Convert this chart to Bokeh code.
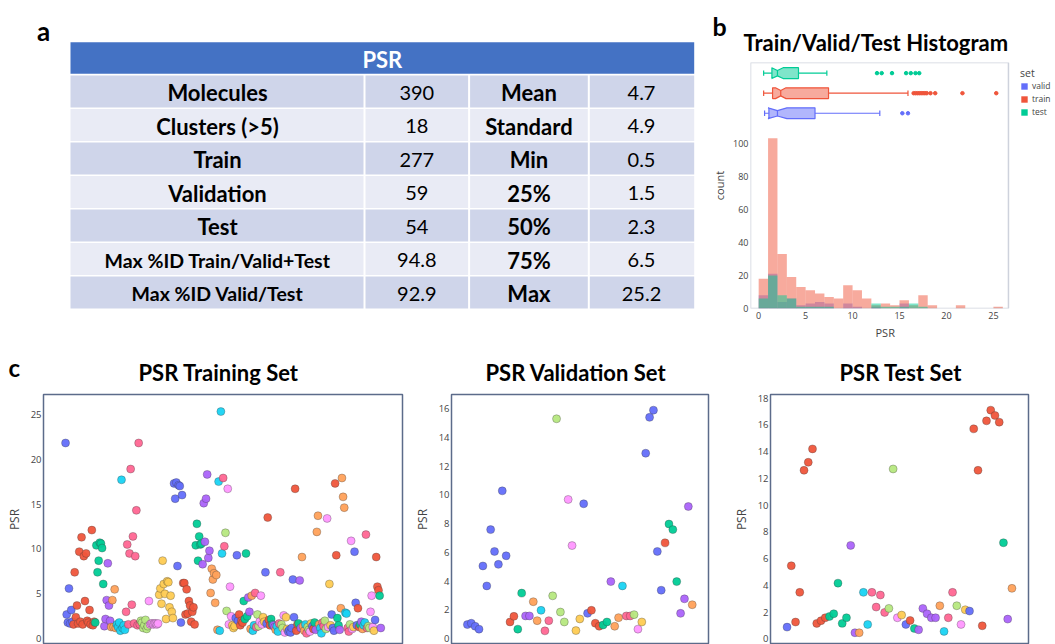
import numpy as np
from bokeh.plotting import figure
from bokeh.layouts import row, column
from bokeh.models import (Range1d, FixedTicker, Title, Legend, LegendItem, ColumnDataSource,
                          BoxAnnotation)
from bokeh.embed import file_html
from bokeh.resources import INLINE
from bokeh.core.properties import value

# ------------------------------------------------------------------ data
PALETTE = ["#636EFA", "#EF553B", "#00CC96", "#AB63FA", "#FFA15A",
           "#19D3F3", "#FF6692", "#B6E880", "#FF97FF", "#FECB52"]

# panel a : summary table
table_title = "PSR"
row_labels = ["Molecules", "Clusters (>5)", "Train", "Validation", "Test",
              "Max %ID Train/Valid+Test", "Max %ID Valid/Test"]
row_values = ["390", "18", "277", "59", "54", "94.8", "92.9"]
stat_labels = ["Mean", "Standard", "Min", "25%", "50%", "75%", "Max"]
stat_values = ["4.7", "4.9", "0.5", "1.5", "2.3", "6.5", "25.2"]

# panel b : histogram + box plots
set_names = ["valid", "train", "test"]
set_colors = ["#636EFA", "#EF553B", "#00CC96"]
set_sizes = [59, 277, 54]
bin_edges = list(range(0, 27))
hist_valid = [8, 21, 4, 6, 2, 3, 4, 3, 0, 3, 1, 0, 1, 0, 0, 3, 0, 0, 0, 0, 0, 0, 0, 0, 0, 0]
hist_train = [18, 103, 33, 19, 13, 11, 9, 7, 6, 14, 11, 6, 2, 3, 2, 5, 2, 8, 2, 0, 0, 2, 0, 0, 0, 1]
hist_test = [6, 20, 8, 6, 1, 1, 1, 1, 0, 0, 0, 0, 3, 1, 1, 1, 3, 1, 0, 0, 0, 0, 0, 0, 0, 0]
box_lo = [0.63, 0.53, 0.53]
box_q1 = [1.09, 1.48, 1.41]
box_med = [2.0, 2.35, 2.0]
box_q3 = [6.0, 7.44, 4.24]
box_hi = [12.9, 15.9, 7.26]
outliers_valid = [15.3, 15.9]
outliers_train = [16.5, 16.7, 16.9, 17.1, 17.3, 17.5, 17.7, 17.9, 18.3, 18.8, 21.7, 25.3]
outliers_test = [12.6, 13.1, 14.2, 15.7, 16.2, 16.7, 17.1]

# panel c : per-molecule PSR, ordered by cluster
train_cluster_sizes = [7, 19, 8, 6, 5, 8, 13, 7, 9, 13,
                       8, 11, 6, 7, 7, 4, 2, 2, 4, 3,
                       3, 4, 4, 2, 2, 2, 2, 2, 3, 2,
                       2, 3, 2, 2, 1, 2, 2, 2, 2, 2,
                       6, 3, 1, 2, 3, 1, 1, 2, 1, 1,
                       1, 1, 1, 1, 3, 2, 2, 2, 2, 2,
                       3, 2, 2, 1, 4, 2, 2, 1, 2, 1,
                       3, 2, 1, 1, 1, 2, 2, 2, 3, 1,
                       1, 3, 1, 1]
train_psr = [
    21.8, 2.7, 1.8, 5.6, 1.7, 3.2, 1.9,
    1.6, 7.4, 2.4, 3.7, 1.7, 9.7, 1.9, 11.3, 1.6, 9.2, 4.2, 9.5, 2.0, 1.8, 3.2, 1.6, 12.1, 1.5, 1.9,
    1.8, 10.4, 7.4, 8.7, 10.7, 10.6, 10.1, 6.1,
    1.4, 2.2, 4.3, 8.4, 3.7, 2.0,
    1.3, 4.3, 1.3, 5.5, 1.2,
    1.6, 1.3, 1.8, 0.9, 17.7, 1.2, 1.5, 1.0,
    3.0, 10.5, 1.6, 9.5, 18.9, 3.8, 11.4, 1.7, 9.2, 14.3, 1.5, 21.8, 1.6,
    2.0, 1.8, 1.2, 1.5, 2.1, 1.1, 1.4,
    4.2, 1.6, 1.7, 1.7, 1.6, 1.7, 1.7, 1.6, 1.7,
    4.9, 5.6, 3.9, 8.7, 6.1, 5.0, 2.2, 6.4, 6.3, 3.5, 4.8, 3.0, 2.3,
    17.3, 15.6, 17.4, 8.1, 17.1, 17.0, 1.8, 16.0,
    6.2, 6.2, 2.7, 5.5, 2.8, 4.2, 3.7, 1.9, 3.0, 3.5, 1.6,
    10.4, 12.8, 8.7, 11.4, 10.5, 10.6,
    8.3, 15.1, 10.8, 15.6, 18.3, 9.0, 9.8,
    5.1, 7.8, 6.6, 7.3, 4.0, 7.1, 1.0,
    17.5, 0.9, 25.3, 9.5,
    17.9, 10.3,
    11.8, 3.1,
    16.7, 1.6, 5.8, 2.5,
    1.5, 1.2, 1.4,
    2.3, 9.3, 2.0,
    2.7, 1.5, 2.0, 1.8,
    4.2, 2.2, 9.5, 2.5,
    4.6, 3.0,
    1.1, 4.8,
    0.9, 1.5,
    5.1, 1.3,
    2.7, 1.4,
    1.9, 4.8, 1.6,
    2.4, 1.9,
    7.4, 1.7,
    13.5, 2.1, 1.5,
    2.2, 1.6,
    1.5, 1.3,
    1.0,
    1.4, 0.8,
    1.7, 7.4,
    1.6, 1.2,
    2.6, 0.7,
    2.4, 1.1,
    0.8, 1.0, 0.7, 1.2, 6.6, 2.4,
    16.7, 0.9, 1.6,
    1.7,
    6.5, 1.2,
    9.1, 1.4, 0.9,
    1.6,
    0.6,
    1.3, 1.0,
    0.8,
    1.7,
    1.4,
    1.1,
    1.8,
    1.0,
    11.9, 13.7, 1.6,
    1.2, 0.6,
    1.8, 1.4,
    2.0, 1.1,
    13.4, 1.3,
    6.1, 1.5,
    2.7, 1.2, 0.9,
    17.3, 9.3,
    2.3, 1.5,
    1.0,
    3.4, 17.9, 15.8, 14.6,
    2.9, 2.8,
    1.2, 0.8,
    1.6,
    10.9, 1.1,
    1.3,
    9.7, 4.0, 1.5,
    3.4, 1.3,
    1.6,
    1.9,
    1.1,
    1.5, 1.8,
    11.6, 1.2,
    1.4, 1.2,
    3.0, 4.8, 1.3,
    0.9,
    2.1,
    9.1, 5.8, 5.4,
    4.8,
    1.2,
]

valid_cluster_sizes = [11, 2, 2, 2, 2, 1, 2, 4, 2, 2,
                       2, 3, 2, 1, 2, 1, 2, 1, 1, 1,
                       5, 1, 3, 3, 1]
valid_psr = [
    0.97, 1.06, 0.85, 0.65, 5.05, 3.66, 7.58, 6.06, 5.16, 10.28, 5.76,
    1.15, 1.54,
    0.65, 3.16,
    1.57, 1.57,
    2.56, 1.24,
    1.96,
    0.53, 1.24,
    2.97, 15.3, 1.84, 1.15,
    9.68, 6.47,
    0.55, 1.36,
    9.38, 1.75,
    1.96, 1.06, 0.85,
    0.94, 1.15,
    3.96,
    0.85, 1.45,
    3.66,
    1.57, 1.57,
    1.66,
    0.65,
    1.15,
    12.9, 15.4, 15.9, 6.06, 3.36,
    6.66,
    7.97, 7.58, 3.96,
    1.75, 2.76, 9.19,
    2.35,
]

test_cluster_sizes = [1, 9, 5, 2, 1, 2, 4, 2, 1, 1,
                      1, 1, 1, 5, 1, 1, 2, 1, 1, 1,
                      1, 7, 1, 1, 1]
test_psr = [
    0.87,
    5.46, 1.25, 3.47, 12.6, 13.2, 14.2, 1.15, 1.35, 1.57,
    1.67, 1.87, 4.16, 1.15, 1.57,
    6.98, 0.45,
    0.45,
    3.47, 1.07,
    3.47, 2.37, 3.27, 1.97,
    2.27, 12.7,
    1.57,
    1.77,
    1.07,
    1.37,
    0.77,
    0.67, 2.27, 1.87, 1.57, 1.57,
    2.47,
    0.55,
    1.57, 3.47,
    2.47,
    1.07,
    2.17,
    2.07,
    15.7, 12.6, 0.97, 16.3, 17.1, 16.7, 16.2,
    7.18,
    1.47,
    3.77,
]

# ------------------------------------------------------------------ style
BOLD_FONT = "Lato"
PLOT_FONT = "Open Sans"
TXT = "#444444"
FRAME = "#5c6b8a"


def add_title(p, text, align="center", offset=0, standoff=10, size="22px",
              font=BOLD_FONT, style="bold", color="black", place="above"):
    p.add_layout(Title(text=text, align=align, offset=offset, standoff=standoff,
                       text_font=font, text_font_size=size, text_font_style=style,
                       text_color=color), place)


def style_axis(ax, tick_size, label_size, label_standoff, axis_label_standoff):
    ax.axis_line_color = None
    ax.major_tick_line_color = None
    ax.minor_tick_line_color = None
    ax.major_tick_out = 0
    ax.major_tick_in = 0
    ax.minor_tick_out = 0
    ax.minor_tick_in = 0
    ax.major_label_text_font = PLOT_FONT
    ax.major_label_text_font_size = tick_size
    ax.major_label_text_color = TXT
    ax.major_label_standoff = label_standoff
    ax.axis_label_text_font = PLOT_FONT
    ax.axis_label_text_font_size = label_size
    ax.axis_label_text_font_style = "normal"
    ax.axis_label_text_color = TXT
    ax.axis_label_standoff = axis_label_standoff


# ------------------------------------------------------------------ panel a
TW, TH = 708, 340
t = figure(width=TW, height=TH, x_range=Range1d(0, TW), y_range=Range1d(TH, 0),
           output_backend="svg", toolbar_location=None, min_border=0, title=None,
           x_axis_location=None, y_axis_location=None)
t.outline_line_color = None
t.grid.visible = False

col_edges = [70, 364, 468.6, 588.3, 693.7]
hdr_top, hdr_bot = 41.7, 73.3
row_top0, row_step, row_h = 75.0, 33.5, 32.0
t.quad(left=[col_edges[0]], right=[col_edges[-1]], top=[hdr_top], bottom=[hdr_bot],
       fill_color="#4472C4", line_color=None)
L, R, T, B, C = [], [], [], [], []
for i in range(len(row_labels)):
    top = row_top0 + i * row_step
    for j in range(4):
        L.append(col_edges[j] + (1 if j else 0))
        R.append(col_edges[j + 1] - (1 if j < 3 else 0))
        T.append(top)
        B.append(top + row_h)
        C.append("#CFD5EA" if i % 2 == 0 else "#E9EBF5")
t.quad(left=L, right=R, top=T, bottom=B, fill_color=C, line_color=None)

centers = [(col_edges[j] + col_edges[j + 1]) / 2 for j in range(4)]
ys = [row_top0 + i * row_step + row_h / 2 + 1 for i in range(len(row_labels))]
t.text(x=[(col_edges[0] + col_edges[-1]) / 2], y=[(hdr_top + hdr_bot) / 2 + 1], text=[table_title],
       text_align="center", text_baseline="middle", text_font=value(BOLD_FONT),
       text_font_size="22px", text_font_style="bold", text_color="white")
lab_sizes = ["22px"] * 5 + ["19.5px"] * 2
t.text(x=[centers[0]] * 7, y=ys, text=row_labels, text_align="center", text_baseline="middle",
       text_font=value(BOLD_FONT), text_font_size=lab_sizes, text_font_style="bold", text_color="black")
t.text(x=[centers[1]] * 7, y=ys, text=row_values, text_align="center", text_baseline="middle",
       text_font=value(BOLD_FONT), text_font_size="20px", text_color="black")
t.text(x=[centers[2]] * 7, y=ys, text=stat_labels, text_align="center", text_baseline="middle",
       text_font=value(BOLD_FONT), text_font_size="22px", text_font_style="bold", text_color="black")
t.text(x=[centers[3]] * 7, y=ys, text=stat_values, text_align="center", text_baseline="middle",
       text_font=value(BOLD_FONT), text_font_size="20px", text_color="black")
t.text(x=[43], y=[30], text=["a"], text_align="center", text_baseline="middle",
       text_font=value(BOLD_FONT), text_font_size="26px", text_font_style="bold", text_color="black")

# ------------------------------------------------------------------ panel b
HX_END = 26.6          # right edge of the plotted box (data units)
h = figure(width=347, height=340, x_range=Range1d(-0.87, 31.61), y_range=Range1d(0, 148.8),
           output_backend="svg", toolbar_location=None, title=None,
           min_border_left=42, min_border_right=0, min_border_top=62, min_border_bottom=31)
h.extra_y_ranges = {"box": Range1d(-9.73, 2.53), "legend_proxy": Range1d(-1000, -900)}
h.grid.visible = False
h.outline_line_color = None
h.add_layout(BoxAnnotation(right=HX_END, fill_alpha=0, line_color=FRAME, line_width=1.5))

proxies = []
for name, col, counts in zip(set_names, set_colors, [hist_valid, hist_train, hist_test]):
    src = ColumnDataSource(dict(left=bin_edges[:-1], right=bin_edges[1:], top=counts))
    h.quad(left="left", right="right", bottom=0, top="top", source=src,
           fill_color=col, fill_alpha=0.5, line_color=None)
    # full-colour legend swatch, drawn on a range that keeps it off the plot area
    proxies.append(h.quad(left="left", right="right", bottom=0, top="top", source=src,
                          fill_color=col, fill_alpha=1.0, line_color=None,
                          y_range_name="legend_proxy"))

box_half = 0.27
all_outliers = [outliers_valid, outliers_train, outliers_test]
for k, col in enumerate(set_colors):
    q1, m, q3, lo, hi = box_q1[k], box_med[k], box_q3[k], box_lo[k], box_hi[k]
    notch = 1.57 * (q3 - q1) / np.sqrt(set_sizes[k])
    yc = k
    xs = [q1, m - notch, m, m + notch, q3, q3, m + notch, m, m - notch, q1]
    yv = [yc - box_half, yc - box_half, yc - box_half / 2, yc - box_half, yc - box_half,
          yc + box_half, yc + box_half, yc + box_half / 2, yc + box_half, yc + box_half]
    h.patch(xs, yv, fill_color=col, fill_alpha=0.5, line_color=col, line_width=1.2,
            y_range_name="box")
    h.segment(x0=[lo, q3, m, lo, hi], x1=[q1, hi, m, lo, hi],
              y0=[yc, yc, yc - box_half / 2, yc - box_half / 2, yc - box_half / 2],
              y1=[yc, yc, yc + box_half / 2, yc + box_half / 2, yc + box_half / 2],
              line_color=col, line_width=1.2, y_range_name="box")
    h.scatter(x=all_outliers[k], y=[yc] * len(all_outliers[k]), size=3.5, color=col,
              y_range_name="box")

legend = Legend(items=[LegendItem(label=n, renderers=[r]) for n, r in zip(set_names, proxies)],
                title="set", location=(270, 191), margin=0, padding=0, spacing=2,
                glyph_width=8, glyph_height=8, label_height=10, label_standoff=4,
                label_text_font=PLOT_FONT, label_text_font_size="8.5px", label_text_color=TXT,
                title_text_font=PLOT_FONT, title_text_font_size="10.5px",
                title_text_font_style="normal", title_text_color=TXT, title_standoff=0,
                border_line_color=None, background_fill_alpha=0)
h.add_layout(legend)

style_axis(h.xaxis[0], "9px", "11px", 3, 3)
style_axis(h.yaxis[0], "9px", "11px", 2, 3)
h.xaxis.ticker = FixedTicker(ticks=[0, 5, 10, 15, 20, 25])
h.yaxis.ticker = FixedTicker(ticks=[0, 20, 40, 60, 80, 100])
h.yaxis.axis_label = "count"
add_title(h, "PSR", align="left", offset=125, standoff=2, size="11px", font=PLOT_FONT,
          style="normal", color=TXT, place="below")
add_title(h, "Train/Valid/Test Histogram", align="left", offset=-7, standoff=13)
add_title(h, "b", align="left", offset=-38, standoff=-40, size="25px")


# ------------------------------------------------------------------ panel c
def scatter_panel(psr, sizes, width, left, right, xpad, yr, yticks):
    n = len(psr)
    clusters = np.repeat(np.arange(len(sizes)), sizes)
    colors = [PALETTE[c % len(PALETTE)] for c in clusters]
    src = ColumnDataSource(dict(x=list(range(n)), y=psr, color=colors))
    p = figure(width=width, height=304, x_range=Range1d(-xpad[0], n - 1 + xpad[1]),
               y_range=Range1d(*yr), output_backend="svg", toolbar_location=None, title=None,
               x_axis_location=None, min_border_left=left, min_border_right=right,
               min_border_top=54, min_border_bottom=0)
    p.grid.visible = False
    p.outline_line_color = FRAME
    p.outline_line_width = 1.5
    p.scatter("x", "y", source=src, size=8, fill_color="color", fill_alpha=0.95,
              line_color="#3a3a3a", line_alpha=0.45, line_width=0.7)
    ax = p.yaxis[0]
    ax.ticker = FixedTicker(ticks=yticks)
    style_axis(ax, "9.5px", "12px", 2, 5)
    ax.axis_label = "PSR"
    return p


p_train = scatter_panel(train_psr, train_cluster_sizes, 410, 43, 8,
                        (19.3, 19.0), (-0.64, 27.2), [0, 5, 10, 15, 20, 25])
add_title(p_train, "PSR Training Set", align="left", offset=95, standoff=18)
add_title(p_train, "c", align="left", offset=-35, standoff=-69, size="24px")
p_valid = scatter_panel(valid_psr, valid_cluster_sizes, 308, 40, 10,
                        (4.1, 4.2), (-0.42, 16.99), [0, 2, 4, 6, 8, 10, 12, 14, 16])
add_title(p_valid, "PSR Validation Set", align="left", offset=34, standoff=18)
p_test = scatter_panel(test_psr, test_cluster_sizes, 337, 52, 27,
                       (3.9, 3.9), (-0.43, 18.27), [0, 2, 4, 6, 8, 10, 12, 14, 16, 18])
add_title(p_test, "PSR Test Set", align="left", offset=69, standoff=18)

layout = column(row(column(t), column(h)),
                row(column(p_train), column(p_valid), column(p_test)))
open("out.html", "w").write(file_html(layout, INLINE))
